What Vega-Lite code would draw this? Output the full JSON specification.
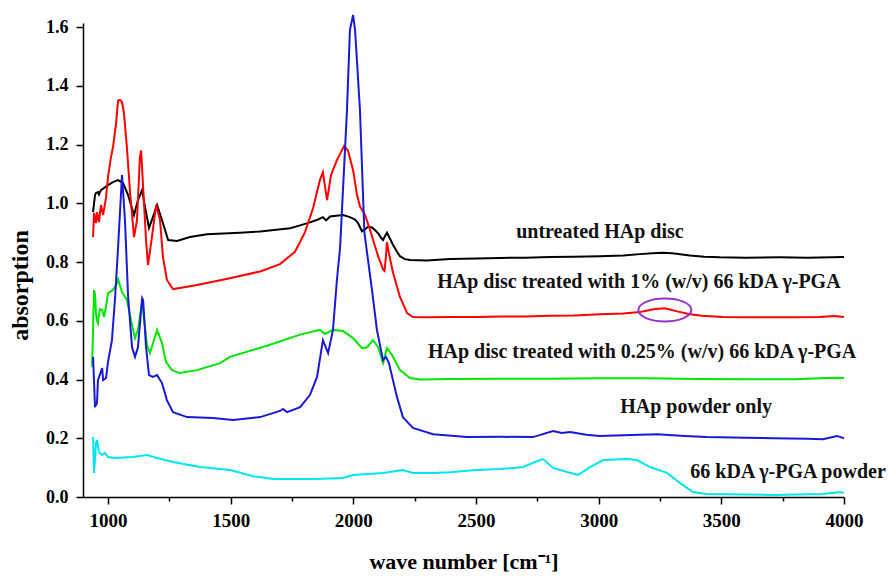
{
  "$schema": "https://vega.github.io/schema/vega-lite/v6.json",
  "width": 761,
  "height": 474,
  "autosize": "none",
  "padding": {"left": 83, "top": 23, "right": 49, "bottom": 80},
  "background": "white",
  "config": {"view": {"stroke": null}, "font": "Liberation Serif"},
  "datasets": {
    "spectra": [
      {"s":"black","w":939,"a":0.97},{"s":"black","w":943,"a":1.0},{"s":"black","w":947,"a":1.028},{"s":"black","w":951,"a":1.035},{"s":"black","w":959,"a":1.038},{"s":"black","w":963,"a":1.03},{"s":"black","w":971,"a":1.045},{"s":"black","w":980,"a":1.05},{"s":"black","w":1000,"a":1.062},{"s":"black","w":1020,"a":1.072},{"s":"black","w":1041,"a":1.079},{"s":"black","w":1061,"a":1.069},{"s":"black","w":1082,"a":1.028},{"s":"black","w":1106,"a":0.96},{"s":"black","w":1122,"a":1.011},{"s":"black","w":1139,"a":1.045},{"s":"black","w":1151,"a":0.987},{"s":"black","w":1167,"a":0.916},{"s":"black","w":1183,"a":0.953},{"s":"black","w":1200,"a":0.994},{"s":"black","w":1220,"a":0.943},{"s":"black","w":1245,"a":0.875},{"s":"black","w":1281,"a":0.872},{"s":"black","w":1334,"a":0.885},{"s":"black","w":1403,"a":0.895},{"s":"black","w":1538,"a":0.9},{"s":"black","w":1620,"a":0.904},{"s":"black","w":1742,"a":0.915},{"s":"black","w":1783,"a":0.925},{"s":"black","w":1823,"a":0.935},{"s":"black","w":1856,"a":0.945},{"s":"black","w":1876,"a":0.953},{"s":"black","w":1889,"a":0.942},{"s":"black","w":1905,"a":0.955},{"s":"black","w":1930,"a":0.958},{"s":"black","w":1958,"a":0.96},{"s":"black","w":1986,"a":0.953},{"s":"black","w":2007,"a":0.945},{"s":"black","w":2019,"a":0.933},{"s":"black","w":2035,"a":0.905},{"s":"black","w":2048,"a":0.912},{"s":"black","w":2060,"a":0.92},{"s":"black","w":2076,"a":0.918},{"s":"black","w":2088,"a":0.909},{"s":"black","w":2101,"a":0.898},{"s":"black","w":2115,"a":0.88},{"s":"black","w":2121,"a":0.875},{"s":"black","w":2130,"a":0.89},{"s":"black","w":2137,"a":0.9},{"s":"black","w":2149,"a":0.88},{"s":"black","w":2162,"a":0.858},{"s":"black","w":2178,"a":0.835},{"s":"black","w":2190,"a":0.82},{"s":"black","w":2210,"a":0.81},{"s":"black","w":2231,"a":0.807},{"s":"black","w":2300,"a":0.805},{"s":"black","w":2394,"a":0.81},{"s":"black","w":2500,"a":0.812},{"s":"black","w":2598,"a":0.814},{"s":"black","w":2700,"a":0.815},{"s":"black","w":2802,"a":0.817},{"s":"black","w":2900,"a":0.818},{"s":"black","w":3005,"a":0.82},{"s":"black","w":3100,"a":0.822},{"s":"black","w":3168,"a":0.827},{"s":"black","w":3220,"a":0.83},{"s":"black","w":3262,"a":0.832},{"s":"black","w":3300,"a":0.83},{"s":"black","w":3340,"a":0.826},{"s":"black","w":3372,"a":0.822},{"s":"black","w":3430,"a":0.818},{"s":"black","w":3494,"a":0.816},{"s":"black","w":3600,"a":0.815},{"s":"black","w":3739,"a":0.816},{"s":"black","w":3850,"a":0.815},{"s":"black","w":3950,"a":0.816},{"s":"black","w":4000,"a":0.817},

      {"s":"red","w":939,"a":0.885},{"s":"red","w":943,"a":0.967},{"s":"red","w":951,"a":0.933},{"s":"red","w":955,"a":0.97},{"s":"red","w":963,"a":0.936},{"s":"red","w":971,"a":0.994},{"s":"red","w":980,"a":0.96},{"s":"red","w":992,"a":1.02},{"s":"red","w":1000,"a":1.09},{"s":"red","w":1012,"a":1.157},{"s":"red","w":1020,"a":1.19},{"s":"red","w":1033,"a":1.273},{"s":"red","w":1041,"a":1.35},{"s":"red","w":1049,"a":1.352},{"s":"red","w":1057,"a":1.345},{"s":"red","w":1065,"a":1.307},{"s":"red","w":1077,"a":1.19},{"s":"red","w":1090,"a":1.035},{"s":"red","w":1106,"a":0.885},{"s":"red","w":1118,"a":0.943},{"s":"red","w":1130,"a":1.157},{"s":"red","w":1135,"a":1.18},{"s":"red","w":1143,"a":1.055},{"s":"red","w":1155,"a":0.875},{"s":"red","w":1163,"a":0.79},{"s":"red","w":1179,"a":0.885},{"s":"red","w":1196,"a":0.994},{"s":"red","w":1212,"a":0.943},{"s":"red","w":1224,"a":0.817},{"s":"red","w":1240,"a":0.739},{"s":"red","w":1265,"a":0.708},{"s":"red","w":1293,"a":0.712},{"s":"red","w":1363,"a":0.722},{"s":"red","w":1497,"a":0.745},{"s":"red","w":1620,"a":0.768},{"s":"red","w":1701,"a":0.793},{"s":"red","w":1762,"a":0.835},{"s":"red","w":1803,"a":0.902},{"s":"red","w":1836,"a":0.984},{"s":"red","w":1864,"a":1.08},{"s":"red","w":1876,"a":1.106},{"s":"red","w":1884,"a":1.06},{"s":"red","w":1893,"a":1.011},{"s":"red","w":1909,"a":1.096},{"s":"red","w":1933,"a":1.147},{"s":"red","w":1962,"a":1.195},{"s":"red","w":1978,"a":1.18},{"s":"red","w":1999,"a":1.113},{"s":"red","w":2015,"a":1.028},{"s":"red","w":2027,"a":0.99},{"s":"red","w":2048,"a":0.96},{"s":"red","w":2068,"a":0.909},{"s":"red","w":2101,"a":0.82},{"s":"red","w":2121,"a":0.775},{"s":"red","w":2127,"a":0.77},{"s":"red","w":2133,"a":0.82},{"s":"red","w":2137,"a":0.868},{"s":"red","w":2145,"a":0.83},{"s":"red","w":2162,"a":0.763},{"s":"red","w":2190,"a":0.681},{"s":"red","w":2219,"a":0.626},{"s":"red","w":2243,"a":0.613},{"s":"red","w":2300,"a":0.612},{"s":"red","w":2400,"a":0.613},{"s":"red","w":2500,"a":0.613},{"s":"red","w":2600,"a":0.615},{"s":"red","w":2700,"a":0.615},{"s":"red","w":2800,"a":0.617},{"s":"red","w":2900,"a":0.618},{"s":"red","w":3005,"a":0.622},{"s":"red","w":3100,"a":0.625},{"s":"red","w":3168,"a":0.63},{"s":"red","w":3230,"a":0.64},{"s":"red","w":3270,"a":0.643},{"s":"red","w":3320,"a":0.632},{"s":"red","w":3372,"a":0.622},{"s":"red","w":3420,"a":0.617},{"s":"red","w":3507,"a":0.613},{"s":"red","w":3600,"a":0.612},{"s":"red","w":3700,"a":0.612},{"s":"red","w":3800,"a":0.612},{"s":"red","w":3900,"a":0.613},{"s":"red","w":3960,"a":0.616},{"s":"red","w":4000,"a":0.613},

      {"s":"green","w":935,"a":0.443},{"s":"green","w":943,"a":0.705},{"s":"green","w":947,"a":0.69},{"s":"green","w":951,"a":0.626},{"s":"green","w":955,"a":0.6},{"s":"green","w":959,"a":0.592},{"s":"green","w":963,"a":0.62},{"s":"green","w":967,"a":0.64},{"s":"green","w":976,"a":0.637},{"s":"green","w":984,"a":0.613},{"s":"green","w":992,"a":0.65},{"s":"green","w":1000,"a":0.694},{"s":"green","w":1012,"a":0.7},{"s":"green","w":1020,"a":0.705},{"s":"green","w":1033,"a":0.72},{"s":"green","w":1041,"a":0.742},{"s":"green","w":1057,"a":0.698},{"s":"green","w":1077,"a":0.671},{"s":"green","w":1098,"a":0.586},{"s":"green","w":1110,"a":0.541},{"s":"green","w":1122,"a":0.569},{"s":"green","w":1139,"a":0.664},{"s":"green","w":1143,"a":0.637},{"s":"green","w":1159,"a":0.517},{"s":"green","w":1171,"a":0.49},{"s":"green","w":1187,"a":0.534},{"s":"green","w":1200,"a":0.569},{"s":"green","w":1220,"a":0.524},{"s":"green","w":1236,"a":0.46},{"s":"green","w":1261,"a":0.432},{"s":"green","w":1293,"a":0.422},{"s":"green","w":1363,"a":0.432},{"s":"green","w":1457,"a":0.456},{"s":"green","w":1497,"a":0.477},{"s":"green","w":1648,"a":0.515},{"s":"green","w":1783,"a":0.553},{"s":"green","w":1864,"a":0.569},{"s":"green","w":1884,"a":0.555},{"s":"green","w":1917,"a":0.569},{"s":"green","w":1958,"a":0.565},{"s":"green","w":1999,"a":0.541},{"s":"green","w":2035,"a":0.507},{"s":"green","w":2056,"a":0.51},{"s":"green","w":2080,"a":0.534},{"s":"green","w":2101,"a":0.51},{"s":"green","w":2121,"a":0.456},{"s":"green","w":2137,"a":0.507},{"s":"green","w":2158,"a":0.483},{"s":"green","w":2190,"a":0.432},{"s":"green","w":2231,"a":0.405},{"s":"green","w":2272,"a":0.4},{"s":"green","w":2400,"a":0.402},{"s":"green","w":2600,"a":0.403},{"s":"green","w":2800,"a":0.403},{"s":"green","w":3000,"a":0.404},{"s":"green","w":3200,"a":0.404},{"s":"green","w":3400,"a":0.402},{"s":"green","w":3600,"a":0.401},{"s":"green","w":3800,"a":0.401},{"s":"green","w":3960,"a":0.406},{"s":"green","w":4000,"a":0.405},

      {"s":"blue","w":939,"a":0.477},{"s":"blue","w":947,"a":0.306},{"s":"blue","w":955,"a":0.32},{"s":"blue","w":959,"a":0.398},{"s":"blue","w":976,"a":0.439},{"s":"blue","w":980,"a":0.398},{"s":"blue","w":992,"a":0.405},{"s":"blue","w":1000,"a":0.46},{"s":"blue","w":1016,"a":0.534},{"s":"blue","w":1029,"a":0.681},{"s":"blue","w":1041,"a":0.85},{"s":"blue","w":1057,"a":1.096},{"s":"blue","w":1069,"a":0.943},{"s":"blue","w":1082,"a":0.68},{"s":"blue","w":1098,"a":0.51},{"s":"blue","w":1110,"a":0.477},{"s":"blue","w":1122,"a":0.51},{"s":"blue","w":1139,"a":0.677},{"s":"blue","w":1143,"a":0.671},{"s":"blue","w":1155,"a":0.51},{"s":"blue","w":1167,"a":0.415},{"s":"blue","w":1183,"a":0.409},{"s":"blue","w":1200,"a":0.415},{"s":"blue","w":1220,"a":0.388},{"s":"blue","w":1240,"a":0.33},{"s":"blue","w":1265,"a":0.289},{"s":"blue","w":1322,"a":0.272},{"s":"blue","w":1428,"a":0.269},{"s":"blue","w":1510,"a":0.262},{"s":"blue","w":1620,"a":0.272},{"s":"blue","w":1701,"a":0.293},{"s":"blue","w":1713,"a":0.3},{"s":"blue","w":1730,"a":0.289},{"s":"blue","w":1783,"a":0.306},{"s":"blue","w":1823,"a":0.347},{"s":"blue","w":1852,"a":0.409},{"s":"blue","w":1876,"a":0.534},{"s":"blue","w":1897,"a":0.49},{"s":"blue","w":1917,"a":0.569},{"s":"blue","w":1933,"a":0.739},{"s":"blue","w":1946,"a":0.85},{"s":"blue","w":1974,"a":1.317},{"s":"blue","w":1986,"a":1.59},{"s":"blue","w":1999,"a":1.641},{"s":"blue","w":2007,"a":1.59},{"s":"blue","w":2027,"a":1.317},{"s":"blue","w":2045,"a":0.9},{"s":"blue","w":2076,"a":0.705},{"s":"blue","w":2096,"a":0.569},{"s":"blue","w":2121,"a":0.466},{"s":"blue","w":2133,"a":0.477},{"s":"blue","w":2145,"a":0.456},{"s":"blue","w":2178,"a":0.34},{"s":"blue","w":2202,"a":0.272},{"s":"blue","w":2243,"a":0.235},{"s":"blue","w":2325,"a":0.214},{"s":"blue","w":2463,"a":0.204},{"s":"blue","w":2600,"a":0.205},{"s":"blue","w":2732,"a":0.204},{"s":"blue","w":2814,"a":0.225},{"s":"blue","w":2850,"a":0.218},{"s":"blue","w":2883,"a":0.221},{"s":"blue","w":2950,"a":0.212},{"s":"blue","w":3005,"a":0.208},{"s":"blue","w":3100,"a":0.21},{"s":"blue","w":3238,"a":0.214},{"s":"blue","w":3350,"a":0.208},{"s":"blue","w":3441,"a":0.204},{"s":"blue","w":3600,"a":0.202},{"s":"blue","w":3711,"a":0.2},{"s":"blue","w":3850,"a":0.198},{"s":"blue","w":3914,"a":0.197},{"s":"blue","w":3971,"a":0.208},{"s":"blue","w":4000,"a":0.2},

      {"s":"cyan","w":939,"a":0.204},{"s":"cyan","w":943,"a":0.082},{"s":"cyan","w":951,"a":0.184},{"s":"cyan","w":955,"a":0.194},{"s":"cyan","w":963,"a":0.153},{"s":"cyan","w":976,"a":0.143},{"s":"cyan","w":988,"a":0.15},{"s":"cyan","w":1000,"a":0.136},{"s":"cyan","w":1029,"a":0.133},{"s":"cyan","w":1102,"a":0.136},{"s":"cyan","w":1159,"a":0.143},{"s":"cyan","w":1200,"a":0.133},{"s":"cyan","w":1265,"a":0.119},{"s":"cyan","w":1375,"a":0.102},{"s":"cyan","w":1497,"a":0.092},{"s":"cyan","w":1591,"a":0.071},{"s":"cyan","w":1673,"a":0.061},{"s":"cyan","w":1852,"a":0.061},{"s":"cyan","w":1958,"a":0.065},{"s":"cyan","w":1999,"a":0.075},{"s":"cyan","w":2121,"a":0.082},{"s":"cyan","w":2202,"a":0.092},{"s":"cyan","w":2243,"a":0.082},{"s":"cyan","w":2325,"a":0.082},{"s":"cyan","w":2394,"a":0.084},{"s":"cyan","w":2500,"a":0.092},{"s":"cyan","w":2598,"a":0.095},{"s":"cyan","w":2692,"a":0.102},{"s":"cyan","w":2761,"a":0.126},{"s":"cyan","w":2773,"a":0.129},{"s":"cyan","w":2814,"a":0.099},{"s":"cyan","w":2871,"a":0.085},{"s":"cyan","w":2916,"a":0.075},{"s":"cyan","w":2965,"a":0.102},{"s":"cyan","w":3018,"a":0.126},{"s":"cyan","w":3115,"a":0.129},{"s":"cyan","w":3156,"a":0.126},{"s":"cyan","w":3209,"a":0.102},{"s":"cyan","w":3278,"a":0.082},{"s":"cyan","w":3331,"a":0.048},{"s":"cyan","w":3384,"a":0.017},{"s":"cyan","w":3441,"a":0.01},{"s":"cyan","w":3711,"a":0.007},{"s":"cyan","w":3914,"a":0.01},{"s":"cyan","w":3984,"a":0.017},{"s":"cyan","w":4000,"a":0.014}
    ],
    "labels": [
      {"w": 3005, "a": 0.902, "t": "untreated HAp disc"},
      {"w": 3164, "a": 0.732, "t": "HAp disc treated with 1% (w/v) 66 kDA γ-PGA"},
      {"w": 3177, "a": 0.494, "t": "HAp disc treated with 0.25% (w/v) 66 kDA γ-PGA"},
      {"w": 3397, "a": 0.306, "t": "HAp powder only"},
      {"w": 3772, "a": 0.085, "t": "66 kDA γ-PGA powder"}
    ],
    "mark": [
      {"w": 3270, "a": 0.637}
    ]
  },
  "layer": [
    {
      "data": {"name": "spectra"},
      "mark": {"type": "line", "strokeWidth": 2},
      "encoding": {
        "x": {
          "field": "w", "type": "quantitative", "title": "wave number [cm⁻¹]",
          "scale": {"domain": [898, 4000], "nice": false, "zero": false},
          "axis": {
            "values": [1000, 1250, 1500, 1750, 2000, 2250, 2500, 2750, 3000, 3250, 3500, 3750, 4000],
            "labelExpr": "datum.value % 500 == 0 ? format(datum.value, 'd') : ''",
            "tickSize": {"condition": {"test": "datum.value % 500 == 0", "value": 7}, "value": 4},
            "grid": false, "labelOverlap": false, "labelFlush": false,
            "domainColor": "black", "domainWidth": 1.5, "tickColor": "black", "tickWidth": 1.5,
            "labelFont": "Liberation Serif", "labelFontSize": 19, "labelFontWeight": "bold", "labelColor": "black", "labelPadding": 7,
            "titleFont": "Liberation Serif", "titleFontSize": 22, "titleFontWeight": "bold", "titleColor": "black",
            "titleY": 71, "titleBaseline": "alphabetic"
          }
        },
        "y": {
          "field": "a", "type": "quantitative", "title": "absorption",
          "scale": {"domain": [0, 1.614], "nice": false, "zero": true},
          "axis": {
            "values": [0, 0.1, 0.2, 0.3, 0.4, 0.5, 0.6, 0.7, 0.8, 0.9, 1.0, 1.1, 1.2, 1.3, 1.4, 1.5, 1.6],
            "labelExpr": "round(datum.value * 10) % 2 == 0 ? format(datum.value, '.1f') : ''",
            "tickSize": {"condition": {"test": "round(datum.value * 10) % 2 == 0", "value": 7}, "value": 4},
            "grid": false, "labelOverlap": false, "labelFlush": false,
            "domainColor": "black", "domainWidth": 1.5, "tickColor": "black", "tickWidth": 1.5,
            "labelFont": "Liberation Serif", "labelFontSize": 18, "labelFontWeight": "bold", "labelColor": "black", "labelPadding": 8,
            "titleFont": "Liberation Serif", "titleFontSize": 24, "titleFontWeight": "bold", "titleColor": "black",
            "titleX": -51, "titleY": 262, "titleAngle": 270, "titleBaseline": "bottom"
          }
        },
        "color": {
          "field": "s", "type": "nominal",
          "scale": {"domain": ["black", "red", "green", "blue", "cyan"], "range": ["#000000", "#ff0000", "#00e600", "#1a1ad6", "#00e5ee"]},
          "legend": null
        }
      }
    },
    {
      "data": {"name": "labels"},
      "mark": {"type": "text", "font": "Liberation Serif", "fontSize": 20, "fontWeight": "bold", "align": "center", "baseline": "middle", "color": "#111111"},
      "encoding": {
        "x": {"field": "w", "type": "quantitative", "title": "wave number [cm⁻¹]"},
        "y": {"field": "a", "type": "quantitative", "title": "absorption"},
        "text": {"field": "t", "type": "nominal"}
      }
    },
    {
      "data": {"name": "mark"},
      "mark": {"type": "point", "shape": "M -1 0 A 1 0.434 0 1 1 1 0 A 1 0.434 0 1 1 -1 0 Z", "size": 2809, "filled": false, "stroke": "#9a32cd", "strokeWidth": 2, "opacity": 1},
      "encoding": {
        "x": {"field": "w", "type": "quantitative", "title": "wave number [cm⁻¹]"},
        "y": {"field": "a", "type": "quantitative", "title": "absorption"}
      }
    }
  ]
}
